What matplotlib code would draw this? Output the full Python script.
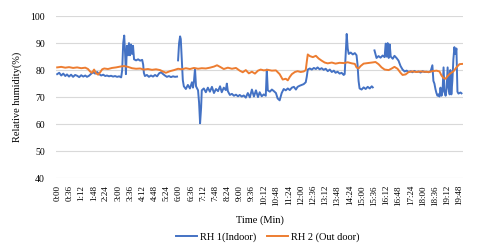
import numpy as np
import matplotlib
matplotlib.use("Agg")
import matplotlib.pyplot as plt

nan = np.nan

# RH 1 (indoor), time in seconds, relative humidity in %
rh1_t = [0, 6, 12, 18, 24, 29, 35, 41, 47, 53, 59, 65, 71, 77, 83, 88, 94, 100, 106, 112,
         118, 124, 130, 136, 142, 147, 153, 159, 165, 171, 177, 183, 189, 192, 195, 198, 201, 203, 206, 209,
         212, 215, 218, 221, 224, 227, 233, 239, 245, 251, 254, 256, 259, 265, 271, 277, 283, 289, 295, 301,
         307, 312, 318, 324, 330, 336, 342, 348, 354, 355, 357, 360, 363, 365, 368, 371, 374, 380, 386, 392,
         398, 401, 404, 407, 410, 416, 419, 422, 425, 427, 433, 439, 445, 451, 457, 463, 469, 475, 481, 486,
         492, 498, 501, 504, 510, 516, 522, 528, 534, 539, 545, 551, 557, 563, 569, 575, 581, 587, 593, 598,
         604, 610, 616, 619, 622, 628, 634, 640, 646, 651, 657, 663, 669, 675, 681, 687, 693, 699, 705, 710,
         716, 722, 728, 734, 737, 740, 746, 752, 758, 764, 769, 775, 781, 787, 793, 799, 805, 811, 817, 822,
         828, 834, 840, 846, 849, 852, 855, 858, 861, 867, 873, 879, 884, 887, 890, 893, 899, 905, 911, 917,
         923, 929, 932, 934, 937, 943, 949, 955, 961, 967, 970, 973, 976, 979, 982, 985, 991, 996, 1002, 1008,
         1014, 1020, 1026, 1032, 1038, 1044, 1049, 1055, 1061, 1067, 1073, 1079, 1085, 1091, 1097, 1103, 1108, 1111, 1114, 1117,
         1120, 1123, 1126, 1129, 1132, 1135, 1138, 1141, 1144, 1147, 1150, 1153, 1156, 1159, 1161, 1164, 1167, 1170, 1173, 1176,
         1179, 1182, 1185, 1191, 1194]
rh1 = [78.5, 79, 78, 78.7, 77.8, 78.4, 77.6, 78.3, 77.5, 78.2, 77.9, 77.4, 78.1, 77.6, 78, 77.5, 77.9, 78.6, 79.2, 78.7,
       79.3, 78.5, 78.0, 78.3, 77.8, 78.0, 77.7, 77.9, 77.6, 77.8, 77.5, 77.7, 77.3, 80, 90, 92.8, 85, 78.5, 89, 85.5,
       90, 85.5, 89.5, 86, 89, 84, 83.6, 84, 83.5, 83.8, 82, 79, 77.8, 78.2, 77.5, 78, 77.6, 78.2, 77.7, 78.8,
       79.2, 78.6, 78.0, 77.5, 77.8, 77.4, 77.7, 77.5, 77.6, nan, 83.6, 90, 92.5, 91.5, 84, 76.3, 74, 73, 74.5, 73.2,
       75.5, 73.5, 76, 80.5, 74, 72.5, 68, 60.3, 66, 72.5, 73.2, 71.8, 73.5, 72, 73.8, 71.5, 73, 72.2, 74, 71.8,
       73.5, 72.6, 75, 72.2, 70.8, 71.2, 70.5, 70.9, 70.3, 70.8, 70.2, 70.6, 69.8, 71.5, 69.9, 72.8, 70.2, 72.5, 70, 71.8,
       70.3, 71, 70.5, 80.2, 72.5, 72, 72.8, 72.2, 71.5, 69.5, 68.8, 71.5, 73, 72.5, 73.2, 72.6, 73.5, 73.8, 72.8, 73.8,
       74.2, 74.5, 74.8, 75.5, 77.5, 80.2, 80.6, 80.2, 80.8, 80.4, 81, 80.3, 80.7, 80.1, 80.5, 79.6, 80.2, 79.3, 79.8, 79,
       79.4, 78.7, 79, 78.2, 78.5, 86, 93.4, 88, 86, 86.5, 85.8, 86.3, 85.5, 82, 76, 73.2, 72.8, 73.6, 73, 73.8,
       73.2, 74, 73.6, nan, 87.3, 84.5, 85.2, 84.6, 85.4, 84.8, 89.8, 85, 90, 84.5, 89.5, 85, 84.2, 85.3, 84.5, 83.5,
       81.5, 80.2, 79.5, 79.8, 79.3, 79.6, 79.2, 79.7, 79.3, 79.5, 79.1, 79.6, 79.3, 79.4, 79.2, 79.6, 81.8, 76, 75, 73,
       71.5, 70.5, 71, 70.2, 73.5, 70.5, 72, 81, 72, 70.5, 73, 81, 73.5, 71, 80, 71, 76, 84, 88.5, 86,
       88, 72, 71.3, 71.7, 71.4]

# RH 2 (outdoor)
rh2_t = [0, 12, 24, 35, 47, 59, 71, 83, 91, 97, 103, 109, 115, 121, 127, 133, 139, 150, 162, 174,
         186, 198, 209, 221, 233, 245, 256, 268, 280, 292, 304, 312, 321, 333, 345, 357, 368, 380, 392, 404,
         416, 427, 439, 451, 463, 472, 481, 492, 504, 516, 528, 539, 548, 557, 566, 575, 584, 593, 601, 610,
         622, 634, 646, 657, 666, 675, 681, 687, 693, 702, 710, 719, 728, 734, 737, 740, 746, 755, 764, 772,
         781, 790, 799, 811, 822, 834, 846, 858, 870, 879, 884, 890, 896, 905, 917, 929, 940, 949, 958, 967,
         979, 988, 996, 1005, 1014, 1020, 1029, 1038, 1049, 1061, 1073, 1085, 1097, 1108, 1120, 1129, 1135, 1141, 1147, 1153,
         1161, 1170, 1179, 1188, 1197]
rh2 = [81, 81.2, 80.9, 81.1, 80.8, 81, 80.7, 80.9, 80.4, 79.5, 79, 80.2, 78.8, 78.3, 79.2, 80.3, 80.6, 80.4, 80.8, 81,
       81.3, 81.5, 81.2, 80.7, 80.5, 80.6, 80.2, 80.4, 80.1, 80.3, 80, 79.5, 79, 79.6, 80, 80.5, 80.3, 80.7, 80.4, 80.8,
       80.5, 80.7, 80.6, 80.9, 81.3, 81.8, 81.2, 80.4, 80.9, 80.5, 80.8, 79.8, 79.2, 80, 78.8, 79.4, 78.7, 79.8, 80.2, 79.9,
       80.1, 79.8, 79.9, 78.5, 76.5, 76.8, 76.2, 77.5, 78.5, 79.3, 79.6, 79.3, 79.5, 80, 83, 85.8, 85.2, 84.8, 85.3, 84.3,
       83.5, 82.8, 82.5, 82.8, 82.4, 82.7, 82.6, 82.9, 82.5, 82.3, 81, 80.6, 81.5, 82.4, 82.6, 82.8, 83, 82.2, 81, 80.2,
       80, 80.6, 81.2, 80.5, 79, 78.2, 78.4, 79.3, 79.5, 79.3, 79.5, 79.4, 79.3, 79.6, 79.8, 79.5, 78, 77, 76.8, 77.8,
       78.8, 79.5, 81, 82.2, 82.3]

tick_pos = list(range(0, 1189, 36))
tick_labels = [f"{t // 60}:{t % 60:02d}" for t in tick_pos]

plt.rcParams["font.family"] = ["Liberation Serif", "DejaVu Serif"]

fig = plt.figure(figsize=(4.8, 2.48), dpi=100)
ax = fig.add_axes([0.117, 0.282, 0.848, 0.653])

ax.plot(rh1_t, rh1, color="#4472C4", lw=1.4, label="RH 1(Indoor)")
ax.plot(rh2_t, rh2, color="#ED7D31", lw=1.4, label="RH 2 (Out door)")

ax.set_xlim(-3, 1199)
ax.set_ylim(40, 100)
ax.set_yticks(range(40, 101, 10))
ax.set_xticks(tick_pos)
ax.set_xticklabels(tick_labels, rotation=90, fontsize=6.5)
ax.tick_params(axis="y", labelsize=7, length=0, pad=8)
ax.tick_params(axis="x", length=0, pad=5)
ax.grid(axis="y", color="#d9d9d9", lw=0.8)
for s in ax.spines.values():
    s.set_visible(False)

ax.set_xlabel("Time (Min)", fontsize=7.5, labelpad=7)
ax.set_ylabel("Relative humidity(%)", fontsize=7.5, labelpad=6)
ax.legend(loc="center", bbox_to_anchor=(0.52, -0.365), ncol=2, frameon=False,
          fontsize=7.5, handlelength=2, columnspacing=1.0, handletextpad=0.3)

fig.savefig("out.png", dpi=100)
